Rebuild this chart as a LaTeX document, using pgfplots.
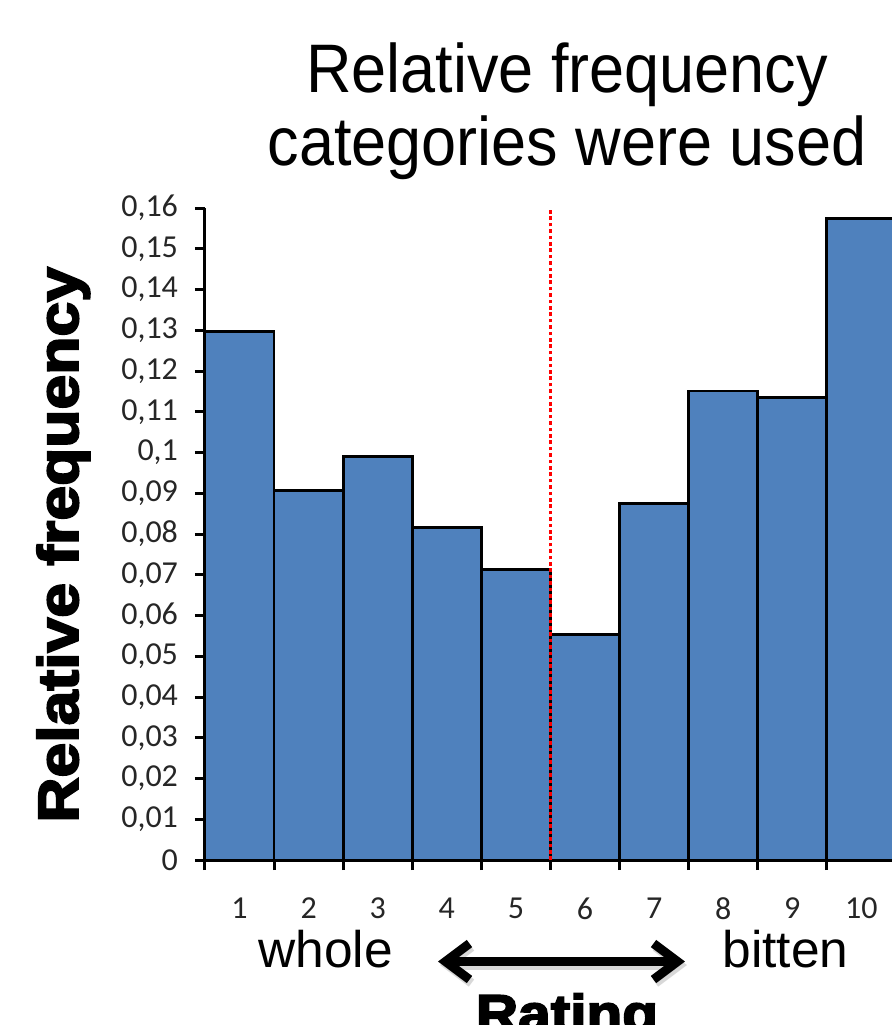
\documentclass[border=0pt]{standalone}
\usepackage{graphicx}
\usepackage{pgfplots}
\pgfplotsset{compat=1.18}
\usepackage{fontspec}
\setmainfont{Liberation Sans}
\newfontfamily\tickfont{Carlito}
\newfontfamily\heavyfont{Liberation Sans}[BoldFeatures={FakeBold=3.5,FakeStretch=1.1}]
\usetikzlibrary{arrows.meta}
\definecolor{barblue}{RGB}{79,129,189}
\begin{document}
\begin{tikzpicture}
\path[use as bounding box] (-102.5pt,-82.5pt) rectangle (343.5pt,430pt);
\clip (-102.5pt,-82.5pt) rectangle (343.5pt,430pt);
\begin{axis}[
  at={(0,0)}, anchor=south west,
  scale only axis, width=345.5pt, height=326pt,
  xmin=0.5, xmax=10.5, ymin=0, ymax=0.16,
  clip=false,
  axis lines*=left,
  axis line style={line width=1.5pt, black},
  tick align=outside,
  major tick length=5pt,
  minor tick length=5pt,
  every tick/.style={line width=1.5pt, black},
  xtick={1,2,3,4,5,6,7,8,9,10},
  minor xtick={0.5,1.5,2.5,3.5,4.5,5.5,6.5,7.5,8.5,9.5,10.5},
  every major x tick/.append style={draw=none},
  ytick={0,0.01,0.02,0.03,0.04,0.05,0.06,0.07,0.08,0.09,0.1,0.11,0.12,0.13,0.14,0.15,0.16},
  scaled y ticks=false,
  tick label style={font=\tickfont\fontsize{16pt}{18pt}\selectfont, text=black!85},
  /pgf/number format/assume math mode=true,
  yticklabel style={/pgf/number format/fixed, /pgf/number format/precision=2, /pgf/number format/use comma, xshift=-5pt},
  xticklabel style={yshift=-10.5pt},
]
\addplot[ybar, bar width=1, fill=barblue, draw=black, line width=1.4pt] coordinates {
  (1,0.1296) (2,0.0906) (3,0.0991) (4,0.0815) (5,0.0712)
  (6,0.0553) (7,0.0874) (8,0.1151) (9,0.1134) (10,0.1575)
};
\draw[red, line width=1.5pt, dash pattern=on 1.8pt off 1.4pt] (axis cs:5.5,0) -- (axis cs:5.5,0.16);
\end{axis}
\node[anchor=base] at (181pt,384pt) {\fontsize{31.5pt}{36pt}\selectfont\scalebox{1}[1.09]{Relative frequency}};
\node[anchor=base] at (181pt,347.5pt) {\fontsize{31.5pt}{36pt}\selectfont\scalebox{1}[1.09]{categories were used}};
\node[rotate=90, anchor=base west, inner sep=0pt] at (-63.5pt,18.5pt) {\heavyfont\bfseries\fontsize{28.4pt}{30pt}\selectfont Relative frequency};
\node[anchor=base west, inner sep=0pt] at (26.5pt,-53.5pt) {\fontsize{25.75pt}{30pt}\selectfont whole};
\node[anchor=base west, inner sep=0pt] at (258.5pt,-53.5pt) {\fontsize{25.75pt}{30pt}\selectfont bitten};
\draw[line width=4.5pt, black!30, opacity=0.5, {Straight Barb[length=12pt,width=18pt]}-{Straight Barb[length=12pt,width=18pt]}] (117.5pt,-52.5pt) -- (241pt,-52.5pt);
\draw[line width=4.5pt, {Straight Barb[length=12pt,width=18pt]}-{Straight Barb[length=12pt,width=18pt]}] (116.5pt,-50.75pt) -- (240pt,-50.75pt);
\node[anchor=base] at (181pt,-86pt) {\heavyfont\bfseries\fontsize{26.6pt}{30pt}\selectfont Rating};
\end{tikzpicture}
\end{document}
